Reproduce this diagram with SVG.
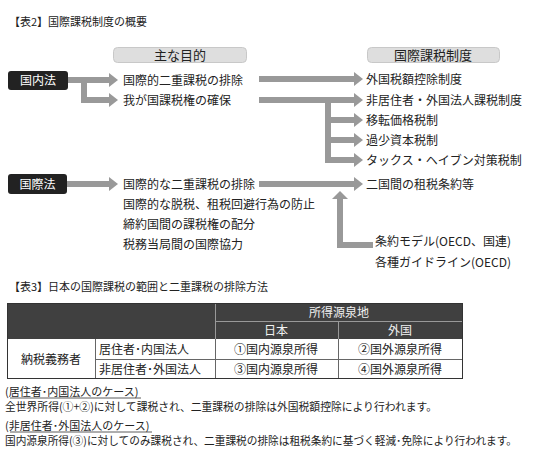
<svg xmlns="http://www.w3.org/2000/svg" width="550" height="465" viewBox="0 0 550 465">
<style>
text{font-family:"Noto Sans CJK JP","Liberation Sans",sans-serif;fill:#222;}
.t11{font-size:11px;}
.t12{font-size:12px;}
.t13{font-size:13px;}
.mid{text-anchor:middle;}
.white{fill:#fff;}
.hdr{fill:#f0f0f0;}
.arrow{fill:#999;}
.darkbox{fill:#222;}
.lightbox{fill:#dedede;stroke:#c8c8c8;stroke-width:1;}
.tline{stroke:#666;stroke-width:1;fill:none;}
.hline{stroke:#999;stroke-width:1;fill:none;}
.uline{stroke:#333;stroke-width:0.8;fill:none;}
</style>
<rect width="550" height="465" fill="#fff"/>

<text class="t11" x="9" y="26">【表2】国際課税制度の概要</text>

<g id="hdr-purpose">
<rect class="lightbox" x="113.5" y="47.5" width="133" height="15" rx="4"/>
<text class="t13 mid" x="180" y="59.5">主な目的</text>
</g>
<g id="hdr-system">
<rect class="lightbox" x="367.5" y="47.5" width="132" height="15" rx="4"/>
<text class="t13 mid" x="433" y="59.5">国際課税制度</text>
</g>

<g id="connectors">
<rect class="arrow" x="67" y="77" width="43" height="6"/>
<polygon class="arrow" points="109,73 118,80 109,87"/>
<rect class="arrow" x="81" y="80" width="6" height="23"/>
<rect class="arrow" x="81" y="97" width="29" height="6"/>
<polygon class="arrow" points="109,93 118,100 109,107"/>
<rect class="arrow" x="66" y="181" width="44" height="6"/>
<polygon class="arrow" points="109,177 118,184 109,191"/>
<rect class="arrow" x="259" y="76" width="96" height="6"/>
<polygon class="arrow" points="354,72 363,79 354,86"/>
<rect class="arrow" x="259" y="97" width="96" height="6"/>
<polygon class="arrow" points="354,93 363,100 354,107"/>
<rect class="arrow" x="325" y="100" width="6" height="63"/>
<rect class="arrow" x="331" y="117" width="24" height="6"/>
<polygon class="arrow" points="354,113 363,120 354,127"/>
<rect class="arrow" x="331" y="137" width="24" height="6"/>
<polygon class="arrow" points="354,133 363,140 354,147"/>
<rect class="arrow" x="331" y="157" width="24" height="6"/>
<polygon class="arrow" points="354,153 363,160 354,167"/>
<rect class="arrow" x="259" y="181" width="96" height="6"/>
<polygon class="arrow" points="354,177 363,184 354,191"/>
<polygon class="arrow" points="332,199 340,191 348,199"/>
<rect class="arrow" x="337" y="198" width="6" height="50"/>
<rect class="arrow" x="337" y="242" width="36" height="6"/>
</g>

<g id="node-kokunaiho">
<rect class="darkbox" x="8" y="71" width="60" height="19" rx="3"/>
<text class="t12 mid white" x="38" y="85">国内法</text>
</g>
<g id="node-kokusaiho">
<rect class="darkbox" x="8" y="174" width="59" height="20" rx="3"/>
<text class="t12 mid white" x="37.5" y="188.5">国際法</text>
</g>

<g id="purposes-domestic">
<text class="t12" x="123" y="84.5">国際的二重課税の排除</text>
<text class="t12" x="123" y="104.5">我が国課税権の確保</text>
</g>
<g id="purposes-international">
<text class="t12" x="123" y="188.5">国際的な二重課税の排除</text>
<text class="t12" x="123" y="208.5">国際的な脱税、租税回避行為の防止</text>
<text class="t12" x="123" y="228.5">締約国間の課税権の配分</text>
<text class="t12" x="123" y="248.5">税務当局間の国際協力</text>
</g>

<g id="systems">
<text class="t12" x="366" y="83.5">外国税額控除制度</text>
<text class="t12" x="366" y="104.5">非居住者・外国法人課税制度</text>
<text class="t12" x="366" y="124.5">移転価格税制</text>
<text class="t12" x="366" y="144.5">過少資本税制</text>
<text class="t12" x="366" y="164.5">タックス・ヘイブン対策税制</text>
<text class="t12" x="366" y="188.5">二国間の租税条約等</text>
</g>
<g id="models">
<text class="t12" x="375" y="245.5">条約モデル(OECD、国連)</text>
<text class="t12" x="375" y="266.5">各種ガイドライン(OECD)</text>
</g>

<text class="t11" x="9" y="291">【表3】日本の国際課税の範囲と二重課税の排除方法</text>

<g id="table">
<rect x="7" y="303" width="456" height="36" fill="#404040"/>
<rect x="7" y="339" width="456" height="40" fill="#fff"/>
<line class="hline" x1="215" y1="321.5" x2="463" y2="321.5"/>
<line class="hline" x1="338.5" y1="321" x2="338.5" y2="339"/>
<line class="hline" x1="215.5" y1="303" x2="215.5" y2="339"/>
<line class="tline" x1="95" y1="359.5" x2="463" y2="359.5"/>
<line class="tline" x1="95.5" y1="339" x2="95.5" y2="379"/>
<line class="tline" x1="215.5" y1="339" x2="215.5" y2="379"/>
<line class="tline" x1="338.5" y1="339" x2="338.5" y2="379"/>
<rect x="7.5" y="303.5" width="455" height="75" fill="none" stroke="#333" stroke-width="1"/>
<text class="t12 mid hdr" x="339" y="316.5">所得源泉地</text>
<text class="t12 mid hdr" x="276" y="334.5">日本</text>
<text class="t12 mid hdr" x="400" y="334.5">外国</text>
<text class="t12 mid" x="51" y="363.5">納税義務者</text>
<text class="t12" x="99" y="353.5">居住者･内国法人</text>
<text class="t12" x="99" y="373.5">非居住者･外国法人</text>
<text class="t12 mid" x="276" y="353.5">①国内源泉所得</text>
<text class="t12 mid" x="400" y="353.5">②国外源泉所得</text>
<text class="t12 mid" x="276" y="373.5">③国内源泉所得</text>
<text class="t12 mid" x="400" y="373.5">④国外源泉所得</text>
</g>

<g id="notes">
<text class="t11" x="5" y="396">(居住者･内国法人のケース)</text>
<line class="uline" x1="10" y1="398" x2="141" y2="398"/>
<text class="t11" x="5" y="411" textLength="432" lengthAdjust="spacingAndGlyphs">全世界所得(①+②)に対して課税され、二重課税の排除は外国税額控除により行われます。</text>
<text class="t11" x="5" y="430">(非居住者･外国法人のケース)</text>
<line class="uline" x1="10" y1="432" x2="152" y2="432"/>
<text class="t11" x="5" y="445" textLength="512" lengthAdjust="spacingAndGlyphs">国内源泉所得(③)に対してのみ課税され、二重課税の排除は租税条約に基づく軽減･免除により行われます。</text>
</g>
</svg>
